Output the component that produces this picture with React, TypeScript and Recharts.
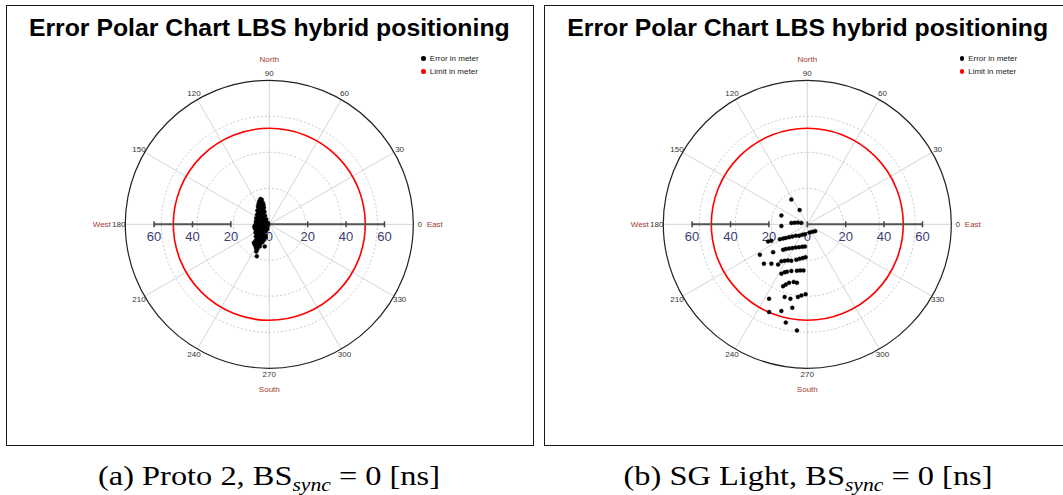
import React from 'react';
import {
  RadarChart,
  PolarGrid,
  PolarAngleAxis,
  PolarRadiusAxis,
  Radar,
  Legend,
} from 'recharts';

// Angle labels around the rim (degrees, counter-clockwise from East)
const ANGLE_TICKS = [0, 30, 60, 90, 120, 150, 180, 210, 240, 270, 300, 330];
const COMPASS: Record<number, string> = { 0: 'East', 90: 'North', 180: 'West', 270: 'South' };

// Distance scale in meters
const RADIUS_MAX = 75;
const GRID_RINGS = [18.75, 37.5, 56.25];
const EAST_TICKS = [0, 20, 40, 60];
const WEST_TICKS = [20, 40, 60];
const LIMIT_RING = [50];

const LEGEND_ITEMS = [
  { label: 'Error in meter', color: '#000000' },
  { label: 'Limit in meter', color: '#ff0000' },
];

// Position errors as [east, north] offsets in meters
const PROTO2_ERRORS: [number, number][] = [
  [-4.6, 13.2], [-3.9, 12.8], [-5.2, 12.0], [-4.2, 11.6], [-3.3, 11.1], [-5.6, 10.6],
  [-4.8, 10.2], [-3.0, 10.0], [-5.9, 9.3], [-4.3, 9.0], [-2.8, 8.6], [-5.4, 8.1],
  [-3.6, 7.8], [-6.2, 7.2], [-4.9, 6.9], [-2.5, 6.6], [-5.7, 6.0], [-3.9, 5.7],
  [-6.4, 5.0], [-4.6, 4.7], [-2.2, 4.4], [-5.5, 3.9], [-3.2, 3.6], [-6.8, 3.1],
  [-4.1, 2.8], [-1.6, 2.6], [-5.9, 2.1], [-2.9, 1.8], [-7.0, 1.3], [-4.8, 1.1],
  [-1.2, 1.0], [-6.2, 0.4], [-3.6, 0.3], [-0.6, 0.2], [-7.3, -0.4], [-5.0, -0.6],
  [-2.3, -0.5], [-6.6, -1.3], [-4.0, -1.5], [-1.3, -1.6], [-7.5, -2.2], [-5.6, -2.4],
  [-2.9, -2.5], [-6.8, -3.3], [-4.5, -3.4], [-1.8, -3.6], [-7.2, -4.3], [-5.3, -4.4],
  [-3.4, -4.6], [-6.4, -5.3], [-4.2, -5.5], [-2.0, -5.8], [-7.0, -6.3], [-5.4, -6.5],
  [-3.0, -6.8], [-6.2, -7.4], [-4.4, -7.6], [-2.6, -8.0], [-7.1, -8.5], [-5.3, -8.7],
  [-3.5, -9.1], [-6.5, -9.7], [-4.6, -10.0], [-7.6, -10.6], [-5.6, -11.0], [-2.4, -11.5],
  [-7.0, -12.2], [-6.3, -13.0], [-6.8, -14.2], [-6.5, -16.6],
  [-4.4, 12.4], [-3.6, 9.6], [-5.0, 7.5], [-3.0, 5.2], [-5.0, 5.4], [-3.5, 2.2],
  [-2.0, 0.0], [-4.3, -0.1], [-3.3, -1.2], [-5.2, -1.6], [-2.4, -3.0], [-3.9, -2.8],
  [-6.0, -3.9], [-3.8, -5.9], [-4.8, -6.9], [-3.7, -7.8], [-5.9, -8.1], [-4.0, -9.4],
  [-6.2, -10.3], [-5.0, -11.6], [-1.9, -6.7], [-8.0, -9.6], [-7.8, -1.2], [-1.0, -2.4],
];

const SGLIGHT_ERRORS: [number, number][] = [
  [-8.3, 12.9], [-4.0, 7.4], [-13.5, 4.6], [-13.5, -0.9],
  [-8.3, 0.7], [-6.6, 0.8], [-4.9, 0.9], [-3.1, 0.7],
  [1.2, -4.3], [2.7, -3.9], [4.1, -3.6],
  [-20.4, -9.0], [-18.7, -8.6], [-14.3, -7.8], [-12.6, -7.4], [-11.2, -7.1], [-9.5, -6.7],
  [-7.8, -6.4], [-6.0, -6.0], [-4.3, -5.9], [-2.7, -5.5], [-1.2, -5.2],
  [-24.7, -15.9], [-17.8, -14.5], [-12.6, -13.3], [-11.2, -12.9], [-9.5, -12.6],
  [-7.8, -12.4], [-6.0, -12.1], [-4.3, -11.9], [-2.6, -11.7], [-1.2, -11.6],
  [-22.6, -20.5], [-18.7, -20.5], [-15.2, -21.0], [-13.5, -19.3], [-11.8, -19.0],
  [-10.1, -18.8], [-8.3, -19.0], [-5.7, -18.5], [-4.0, -18.0], [-2.3, -17.6], [-0.9, -17.1],
  [-13.5, -25.7], [-11.8, -25.0], [-10.6, -24.7], [-8.3, -24.3], [-5.4, -24.2],
  [-3.7, -24.0], [-2.0, -24.0],
  [-12.6, -32.3], [-11.2, -31.4], [-9.5, -30.5], [-7.1, -30.0], [-5.4, -30.5],
  [-19.9, -38.8], [-11.8, -37.8], [-8.8, -38.8], [-4.9, -37.8], [-3.1, -37.1], [-0.9, -36.4],
  [-19.9, -45.7], [-13.5, -45.2], [-7.8, -43.5], [-11.2, -51.2], [-5.4, -55.3],
];

// chart geometry
const CX = 269.3;
const CY = 224.3;
const R = 144;

const toPolar = (pts: [number, number][]) =>
  pts.map(([e, n]) => {
    let angle = (Math.atan2(n, e) * 180) / Math.PI;
    if (angle < 0) angle += 360;
    return { angle, err: Math.hypot(e, n) };
  });

const SMALL_FONT = '"Liberation Sans", Arial, sans-serif';

const AngleTick = (props: any) => {
  const { x, y, payload } = props;
  const deg = Math.round(payload.value);
  const a = (deg * Math.PI) / 180;
  // pull the label slightly back toward the rim
  const tx = x - 1.5 * Math.cos(a);
  const ty = y + 1.5 * Math.sin(a);
  const word = COMPASS[deg];
  let wordEl = null;
  if (word) {
    let wx = tx;
    let wy = ty;
    let anchor: 'start' | 'middle' | 'end' = 'middle';
    if (deg === 90) wy = ty - 14;
    if (deg === 270) wy = ty + 15;
    if (deg === 0) { wx = tx + 7; anchor = 'start'; }
    if (deg === 180) { wx = tx - 8; anchor = 'end'; }
    wordEl = (
      <text x={wx} y={wy} textAnchor={anchor} dominantBaseline="central" fontSize={8} fontFamily={SMALL_FONT} fill="#a23b2c">
        {word}
      </text>
    );
  }
  return (
    <g>
      <text x={tx} y={ty} textAnchor="middle" dominantBaseline="central" fontSize={8} fontFamily={SMALL_FONT} fill="#333333">
        {deg}
      </text>
      {wordEl}
    </g>
  );
};

const DistanceTick = (props: any) => {
  const { x, y, payload } = props;
  return (
    <g>
      <line x1={x} x2={x} y1={y - 3} y2={y + 3} stroke="#444444" strokeWidth={1.5} />
      <text x={x} y={y + 12} textAnchor="middle" dominantBaseline="central" fontSize={13} fontFamily={SMALL_FONT} fill="#3c3c72">
        {payload.value}
      </text>
    </g>
  );
};

const LegendBox = () => (
  <div style={{ fontFamily: SMALL_FONT, fontSize: 8, color: '#222' }}>
    {LEGEND_ITEMS.map(item => (
      <div key={item.label} style={{ display: 'flex', alignItems: 'center', height: 13 }}>
        <span style={{ width: 4.5, height: 4.5, borderRadius: '50%', background: item.color, marginRight: 4 }} />
        <span>{item.label}</span>
      </div>
    ))}
  </div>
);

function PolarPanel({
  offsetX,
  chartWidth,
  frameLeft,
  frameWidth,
  points,
  caption,
}: {
  offsetX: number;
  chartWidth: number;
  frameLeft: number;
  frameWidth: number;
  points: [number, number][];
  caption: React.ReactNode;
}) {
  const data = toPolar(points);
  return (
    <>
      <div
        style={{
          position: 'absolute',
          left: frameLeft,
          top: 5,
          width: frameWidth,
          height: 441,
          boxSizing: 'border-box',
          border: '1.5px solid #1a1a1a',
        }}
      />
      <div
        style={{
          position: 'absolute',
          left: offsetX + CX - 260,
          top: 13,
          width: 520,
          textAlign: 'center',
          fontFamily: SMALL_FONT,
          fontWeight: 'bold',
          fontSize: 24.8,
          lineHeight: '30px',
          color: '#000',
        }}
      >
        Error Polar Chart LBS hybrid positioning
      </div>
      <div style={{ position: 'absolute', left: offsetX, top: 0 }}>
        <RadarChart
          width={chartWidth}
          height={450}
          cx={CX}
          cy={CY}
          innerRadius={0}
          outerRadius={R}
          startAngle={0}
          endAngle={360}
          data={data}
          margin={{ top: 0, right: 0, bottom: 0, left: 0 }}
        >
          <PolarAngleAxis
            dataKey="angle"
            type="number"
            domain={[0, 360]}
            allowDataOverflow
            ticks={ANGLE_TICKS as any}
            tickLine={false}
            tick={AngleTick}
            axisLineType="circle"
            axisLine={{ stroke: '#222222', strokeWidth: 1.2 }}
          />
          <PolarRadiusAxis radiusAxisId="grid" domain={[0, RADIUS_MAX]} allowDataOverflow ticks={GRID_RINGS as any} tick={false} axisLine={false} />
          <PolarRadiusAxis radiusAxisId="limit" domain={[0, RADIUS_MAX]} allowDataOverflow ticks={LIMIT_RING as any} tick={false} axisLine={false} />
          <PolarGrid gridType="circle" polarRadius={[]} stroke="#d4d4d4" strokeWidth={1} />
          <PolarGrid gridType="circle" radiusAxisId="grid" radialLines={false} stroke="#c8c8c8" strokeDasharray="2 2" />
          <PolarGrid gridType="circle" radiusAxisId="limit" radialLines={false} stroke="#ff0000" strokeWidth={1.6} />
          <PolarRadiusAxis
            radiusAxisId={0}
            angle={0}
            domain={[0, RADIUS_MAX]}
            allowDataOverflow
            ticks={EAST_TICKS as any}
            tick={DistanceTick}
            axisLine={{ stroke: '#555555', strokeWidth: 2 }}
          />
          <PolarRadiusAxis
            radiusAxisId="west"
            angle={180}
            domain={[0, RADIUS_MAX]}
            allowDataOverflow
            ticks={WEST_TICKS as any}
            tick={DistanceTick}
            axisLine={{ stroke: '#555555', strokeWidth: 2 }}
          />
          <Radar
            name="Error in meter"
            dataKey="err"
            stroke="none"
            fill="none"
            dot={{ r: 2, fill: '#000000', stroke: '#000000', strokeWidth: 0.4 }}
            isAnimationActive={false}
          />
          <Legend
            content={() => <LegendBox />}
            wrapperStyle={{ position: 'absolute', left: CX + 152, top: 52, width: 90 }}
          />
        </RadarChart>
      </div>
      <div
        style={{
          position: 'absolute',
          left: offsetX + CX - 260,
          top: 460,
          width: 520,
          textAlign: 'center',
          fontFamily: '"Liberation Serif", "DejaVu Serif", serif',
          fontSize: 27,
          lineHeight: '32px',
          color: '#000',
          transform: 'scaleX(1.2)',
          transformOrigin: 'center',
        }}
      >
        {caption}
      </div>
    </>
  );
}

export default function App() {
  return (
    <div
      style={{
        position: 'absolute',
        left: 0,
        top: 0,
        width: 1063,
        height: 495,
        overflow: 'hidden',
        background: '#fff',
      }}
    >
      <PolarPanel
        offsetX={0}
        chartWidth={537}
        frameLeft={6}
        frameWidth={528}
        points={PROTO2_ERRORS}
        caption={
          <>
            (a) Proto 2, BS<sub style={{ fontStyle: 'italic', fontSize: 18 }}>sync</sub> = 0 [ns]
          </>
        }
      />
      <PolarPanel
        offsetX={538.4}
        chartWidth={524}
        frameLeft={544}
        frameWidth={530}
        points={SGLIGHT_ERRORS}
        caption={
          <>
            (b) SG Light, BS<sub style={{ fontStyle: 'italic', fontSize: 18 }}>sync</sub> = 0 [ns]
          </>
        }
      />
    </div>
  );
}
